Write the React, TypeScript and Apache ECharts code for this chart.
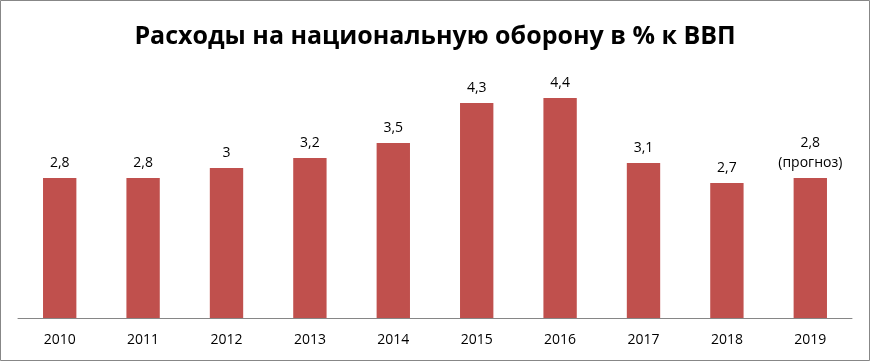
import React, { useEffect, useRef } from "react";
import * as echarts from "echarts";

const categories = ["2010", "2011", "2012", "2013", "2014", "2015", "2016", "2017", "2018", "2019"];
const values = [2.8, 2.8, 3, 3.2, 3.5, 4.3, 4.4, 3.1, 2.7, 2.8];
const labels = ["2,8", "2,8", "3", "3,2", "3,5", "4,3", "4,4", "3,1", "2,7", "2,8\n(прогноз)"];
const titleText = "Расходы на национальную оборону в % к ВВП";

export default function App() {
  const ref = useRef<HTMLDivElement>(null);
  useEffect(() => {
    const chart = echarts.init(ref.current!, null, { renderer: "svg" });
    chart.setOption({
      animation: false,
      title: {
        text: titleText,
        left: "center",
        top: 16,
        textStyle: { fontFamily: "Open Sans", fontWeight: "bold", fontSize: 25, color: "#000" },
      },
      graphic: [
        {
          type: "rect",
          shape: { x: 0.5, y: 0.5, width: 869, height: 360 },
          style: { fill: "none", stroke: "#878787", lineWidth: 1 },
          silent: true,
        },
      ],
      grid: { left: 18, right: 18, top: 68, bottom: 43 },
      xAxis: {
        type: "category",
        data: categories,
        axisTick: { show: false },
        axisLine: { lineStyle: { color: "#868686" } },
        axisLabel: { fontFamily: "Open Sans", fontSize: 14, color: "#000", margin: 13 },
      },
      yAxis: { type: "value", min: 0, max: 5, show: false, splitLine: { show: false } },
      series: [
        {
          type: "bar",
          barWidth: "40%",
          data: values.map((v) => ({ value: v })),
          itemStyle: { color: "#C0504D" },
          label: {
            show: true,
            position: "top",
            distance: 7,
            fontFamily: "Open Sans",
            fontSize: 14,
            color: "#000",
            lineHeight: 20,
            formatter: (p: any) => labels[p.dataIndex],
          },
        },
      ],
    });
    return () => chart.dispose();
  }, []);
  return <div ref={ref} style={{ width: 870, height: 361, position: "fixed", left: 0, top: 0 }} />;
}
